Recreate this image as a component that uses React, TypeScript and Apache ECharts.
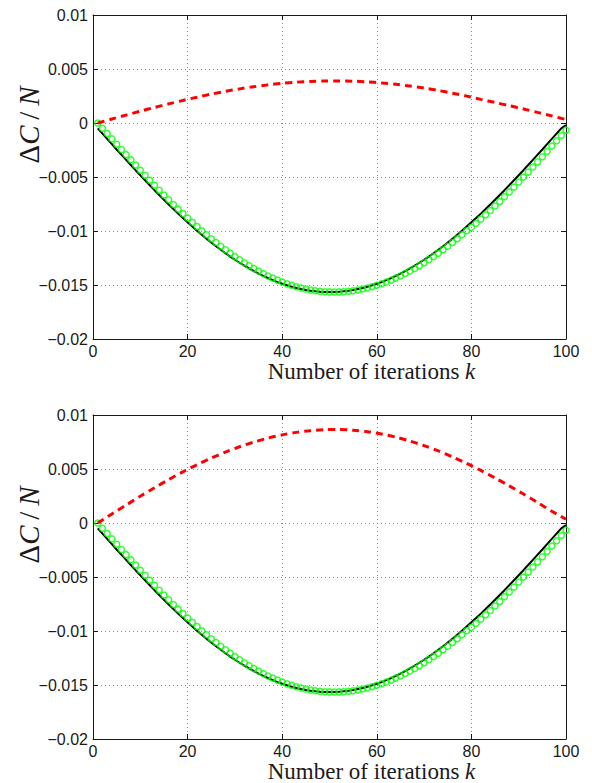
import React, { useEffect, useRef } from "react";
import * as echarts from "echarts";

// x values (iteration index k)
const iterations: number[] = Array.from({ length: 100 }, (_, i) => i + 1);
const redIterations: number[] = [
  1, 4, 7, 10, 13, 16, 19, 22, 25, 28, 31, 34, 37, 40, 43, 46, 49, 52, 55, 58,
  61, 64, 67, 70, 73, 76, 79, 82, 85, 88, 91, 94, 97, 100,
];

// green circles (same in both panels)
const greenCircles: number[] = [
  0, -0.00049, -0.00098, -0.00147, -0.00196, -0.00245, -0.00293, -0.00341, -0.00389, -0.00437,
  -0.00484, -0.0053, -0.00576, -0.00622, -0.00666, -0.00711, -0.00754, -0.00797, -0.00839, -0.0088,
  -0.0092, -0.00959, -0.00998, -0.01035, -0.01071, -0.01107, -0.01141, -0.01174, -0.01206, -0.01237,
  -0.01266, -0.01294, -0.01321, -0.01347, -0.01371, -0.01394, -0.01416, -0.01436, -0.01455, -0.01473,
  -0.01489, -0.01503, -0.01516, -0.01527, -0.01537, -0.01546, -0.01553, -0.01558, -0.01562, -0.01564,
  -0.01565, -0.01564, -0.01562, -0.01558, -0.01553, -0.01546, -0.01537, -0.01527, -0.01516, -0.01503,
  -0.01489, -0.01473, -0.01455, -0.01436, -0.01416, -0.01394, -0.01371, -0.01347, -0.01321, -0.01294,
  -0.01266, -0.01237, -0.01206, -0.01174, -0.01141, -0.01107, -0.01071, -0.01035, -0.00998, -0.00965,
  -0.00928, -0.0089, -0.0085, -0.0081, -0.00768, -0.00726, -0.00682, -0.00638, -0.00593, -0.00547,
  -0.00501, -0.00455, -0.00408, -0.0036, -0.00312, -0.00263, -0.00214, -0.00165, -0.00115, -0.00066,
];

// black solid line (same in both panels)
const blackLine: number[] = [
  -0.00049, -0.00098, -0.00147, -0.00196, -0.00245, -0.00293, -0.00341, -0.00389, -0.00437, -0.00484,
  -0.0053, -0.00576, -0.00622, -0.00666, -0.00711, -0.00754, -0.00797, -0.00839, -0.0088, -0.0092,
  -0.00959, -0.00998, -0.01035, -0.01071, -0.01107, -0.01141, -0.01174, -0.01206, -0.01237, -0.01266,
  -0.01294, -0.01321, -0.01347, -0.01371, -0.01394, -0.01416, -0.01436, -0.01455, -0.01473, -0.01489,
  -0.01503, -0.01516, -0.01527, -0.01537, -0.01546, -0.01553, -0.01558, -0.01562, -0.01564, -0.01565,
  -0.01564, -0.01562, -0.01558, -0.01553, -0.01546, -0.01537, -0.01527, -0.01516, -0.01503, -0.01489,
  -0.01473, -0.01455, -0.01436, -0.01416, -0.01394, -0.01371, -0.01347, -0.01321, -0.01294, -0.01266,
  -0.01237, -0.01206, -0.01174, -0.01141, -0.01107, -0.01071, -0.01035, -0.00998, -0.00959, -0.0092,
  -0.0088, -0.00839, -0.00797, -0.00754, -0.00711, -0.00666, -0.00622, -0.00576, -0.0053, -0.00484,
  -0.00437, -0.00389, -0.00341, -0.00293, -0.00245, -0.00196, -0.00147, -0.00098, -0.00049, -0.0002,
];

// red dashed curves
const redTop: number[] = [
  0, 0.00037, 0.00073, 0.00109, 0.00144, 0.00177, 0.00209, 0.00239, 0.00267, 0.00293,
  0.00316, 0.00336, 0.00353, 0.00367, 0.00378, 0.00385, 0.00389, 0.0039, 0.00387, 0.00381,
  0.00371, 0.00358, 0.00342, 0.00323, 0.00301, 0.00276, 0.00249, 0.00219, 0.0019, 0.0016,
  0.0013, 0.00098, 0.00066, 0.00032,
];
const redBottom: number[] = [
  0, 0.00084, 0.00166, 0.00248, 0.00326, 0.00402, 0.00474, 0.0054, 0.00601, 0.00657,
  0.00706, 0.00749, 0.00786, 0.00816, 0.00839, 0.00855, 0.00864, 0.00866, 0.00859, 0.00845,
  0.00824, 0.00795, 0.00759, 0.00716, 0.00667, 0.00612, 0.00552, 0.00487, 0.00417, 0.00344,
  0.00268, 0.00189, 0.00109, 0.00035,
];

const xTicks = { min: 0, max: 100, interval: 20 };
const yTicks = { min: -0.02, max: 0.01, interval: 0.005 };

const FG = "#1a1a1a";
const SANS = "'Liberation Sans', Arial, Helvetica, sans-serif";
const SERIF = "'Liberation Serif', 'Times New Roman', serif";

function fmtY(v: number): string {
  const s = String(parseFloat(v.toFixed(4)));
  return s === "-0" ? "0" : s.replace("-", "\u2212");
}

export default function App() {
  const ref = useRef<HTMLDivElement>(null);
  useEffect(() => {
    if (!ref.current) return;
    const chart = echarts.init(ref.current, undefined, { renderer: "svg" });

    const panels = [
      { top: 15, red: redTop },
      { top: 415, red: redBottom },
    ];
    const plotH = 324;
    const axisLineStyle = { color: FG, width: 1 };
    const grids: any[] = [];
    const xAxes: any[] = [];
    const yAxes: any[] = [];
    const series: any[] = [];
    const graphics: any[] = [];

    panels.forEach((p, gi) => {
      grids.push({ left: 93, width: 473, top: p.top, height: plotH, containLabel: false });
      xAxes.push({
        gridIndex: gi,
        type: "value",
        position: "bottom",
        ...xTicks,
        axisLine: { show: true, onZero: false, lineStyle: axisLineStyle },
        axisTick: { show: true, inside: true, length: 5, lineStyle: axisLineStyle },
        axisLabel: {
          show: true,
          margin: 4,
          color: FG,
          fontSize: 16,
          lineHeight: 16,
          fontFamily: SANS,
          showMinLabel: true,
          showMaxLabel: true,
        },
        splitLine: { show: true, lineStyle: { type: [1, 3], color: "#8a8a8a", width: 1 } },
      });
      xAxes.push({
        gridIndex: gi,
        type: "value",
        position: "top",
        ...xTicks,
        axisLine: { show: true, onZero: false, lineStyle: axisLineStyle },
        axisTick: { show: true, inside: true, length: 5, lineStyle: axisLineStyle },
        axisLabel: { show: false },
        splitLine: { show: false },
      });
      yAxes.push({
        gridIndex: gi,
        type: "value",
        position: "left",
        ...yTicks,
        axisLine: { show: true, onZero: false, lineStyle: axisLineStyle },
        axisTick: { show: true, inside: true, length: 5, lineStyle: axisLineStyle },
        axisLabel: {
          show: true,
          margin: 5,
          color: FG,
          fontSize: 16,
          fontFamily: SANS,
          formatter: fmtY,
          showMinLabel: true,
          showMaxLabel: true,
        },
        splitLine: { show: true, lineStyle: { type: [1, 3], color: "#8a8a8a", width: 1 } },
      });
      yAxes.push({
        gridIndex: gi,
        type: "value",
        position: "right",
        ...yTicks,
        axisLine: { show: true, onZero: false, lineStyle: axisLineStyle },
        axisTick: { show: true, inside: true, length: 5, lineStyle: axisLineStyle },
        axisLabel: { show: false },
        splitLine: { show: false },
      });

      series.push({
        type: "line",
        xAxisIndex: gi * 2,
        yAxisIndex: gi * 2,
        data: iterations.map((k, i) => [k, blackLine[i]]),
        showSymbol: false,
        symbol: "none",
        lineStyle: { color: "#000000", width: 2 },
        z: 3,
      });
      series.push({
        type: "scatter",
        xAxisIndex: gi * 2,
        yAxisIndex: gi * 2,
        data: iterations.map((k, i) => [k, greenCircles[i]]),
        symbol: "circle",
        symbolSize: 6,
        itemStyle: { color: "rgba(0,0,0,0)", borderColor: "#00ff00", borderWidth: 1.5 },
        z: 4,
      });
      series.push({
        type: "line",
        xAxisIndex: gi * 2,
        yAxisIndex: gi * 2,
        data: redIterations.map((k, i) => [k, p.red[i]]),
        showSymbol: false,
        symbol: "none",
        smooth: 0.3,
        lineStyle: { color: "#ff0000", width: 3, type: [7, 5], cap: "butt" },
        z: 5,
      });

      const bottomY = p.top + plotH;
      graphics.push({
        type: "text",
        x: 371.5,
        y: bottomY + 32,
        style: {
          text: "Number of iterations {k|k}",
          fontFamily: SERIF,
          fontSize: 23,
          lineHeight: 23,
          fill: FG,
          align: "center",
          verticalAlign: "middle",
          rich: {
            k: { fontFamily: SERIF, fontSize: 23, lineHeight: 23, fontStyle: "italic", fill: FG },
          },
        },
      });
      graphics.push({
        type: "text",
        x: 29,
        y: p.top + 110,
        rotation: Math.PI / 2,
        style: {
          text: "\u0394{i|C}\u2009/\u2009{i|N}",
          fontFamily: SERIF,
          fontSize: 29,
          fill: FG,
          align: "center",
          verticalAlign: "middle",
          rich: {
            i: { fontFamily: SERIF, fontSize: 29, fontStyle: "italic", fill: FG },
          },
        },
      });
    });

    chart.setOption({
      animation: false,
      backgroundColor: "#ffffff",
      grid: grids,
      xAxis: xAxes,
      yAxis: yAxes,
      series,
      graphic: graphics,
    });
    return () => chart.dispose();
  }, []);

  return (
    <div
      ref={ref}
      style={{ position: "absolute", left: 0, top: 0, width: 592, height: 783 }}
    />
  );
}
